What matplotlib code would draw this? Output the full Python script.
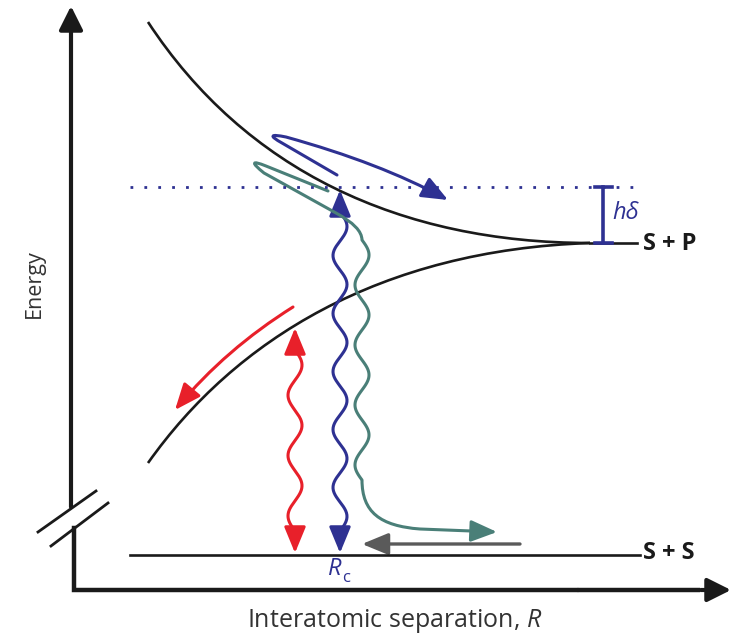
import numpy as np
import matplotlib
matplotlib.use("Agg")
import matplotlib.pyplot as plt
from matplotlib.path import Path
from matplotlib.patches import PathPatch, FancyArrowPatch

plt.rcParams['font.family'] = ['Open Sans', 'DejaVu Sans']
plt.rcParams['mathtext.fontset'] = 'custom'
plt.rcParams['mathtext.rm'] = 'Open Sans'
plt.rcParams['mathtext.it'] = 'Open Sans:italic'

# ---- schematic geometry (pixel coords, y down) ----
upper_curve = [(148, 22), (245, 170), (400, 243), (590, 243)]   # bezier
lower_curve = [(148, 463), (235, 340), (380, 250), (590, 243)]  # bezier
sp_level = 243
ss_level = 555
resonance_level = 187
level_x = (130, 640)
asym_x = (590, 637)

labels = ["S + P", "S + S"]
x_label = "Interatomic separation, $R$"
y_label = "Energy"

RED = "#e8202a"
BLUE = "#2e3192"
TEAL = "#4a7f78"
GREY = "#5a5a5a"
BLACK = "#1a1a1a"

# wavy photon arrows: x, top tip, bottom tip
red_photon = (295, 328, 553)
blue_photon = (340, 190, 553)
wave_amp = 7
wave_period = 60

HEAD = '-|>,head_length=0.8,head_width=0.33'
HEAD2 = '<|-|>,head_length=0.8,head_width=0.33'

fig = plt.figure(figsize=(7.31, 6.39), dpi=100)
ax = fig.add_axes([0, 0, 1, 1])
ax.set_xlim(0, 731)
ax.set_ylim(639, 0)
ax.axis('off')

C4 = [Path.MOVETO, Path.CURVE4, Path.CURVE4, Path.CURVE4]
for pts in (upper_curve, lower_curve):
    ax.add_patch(PathPatch(Path(pts, C4), fc='none', ec=BLACK, lw=1.9))
ax.plot(asym_x, [sp_level, sp_level], color=BLACK, lw=1.9)
ax.plot(level_x, [ss_level, ss_level], color=BLACK, lw=1.9)
ax.plot(level_x, [resonance_level, resonance_level], color=BLUE, lw=2,
        ls=(0, (1, 4)))

# h delta bracket
ax.plot([603, 603], [resonance_level, sp_level], color=BLUE, lw=2.6)
for yy in (resonance_level, sp_level):
    ax.plot([595, 612], [yy, yy], color=BLUE, lw=2.6)
ax.text(612, 213, "hδ", color=BLUE, fontsize=17, style='italic',
        family=['Open Sans', 'DejaVu Sans'], va='center', ha='left')

ax.text(643, 244, labels[0], fontsize=17, fontweight='bold', va='center',
        ha='left', color=BLACK)
ax.text(643, 553, labels[1], fontsize=17, fontweight='bold', va='center',
        ha='left', color=BLACK)


def wiggle(x0, y0, y1):
    # squiggle drawn with a whole number of half waves so it ends on its axis
    n_half = max(1, round(2 * (y1 - y0) / wave_period))
    ys = np.linspace(y0, y1, 300)
    xs = x0 + wave_amp * np.sin(np.pi * n_half * (ys - y0) / (y1 - y0))
    return list(zip(xs, ys))


lead = 22
for (x0, yt, yb), col in ((red_photon, RED), (blue_photon, BLUE)):
    v = [(x0, yt)] + wiggle(x0, yt + lead, yb - lead) + [(x0, yb)]
    ax.add_patch(FancyArrowPatch(path=Path(v), arrowstyle=HEAD2,
                                 mutation_scale=20, color=col, lw=2.2))

# red arrow along lower curve
ax.add_patch(FancyArrowPatch((293, 307), (175, 410), connectionstyle='arc3,rad=0.08',
                             arrowstyle=HEAD, mutation_scale=20, color=RED, lw=2.2,
                             shrinkA=0, shrinkB=0))

# blue hairpin trajectory
blue_loop = [(337, 175), (282, 143), (262, 132), (286, 137), (380, 163), (448, 200)]
blue_codes = [Path.MOVETO, Path.LINETO, Path.CURVE3, Path.CURVE3, Path.CURVE3, Path.CURVE3]
ax.add_patch(FancyArrowPatch(path=Path(blue_loop, blue_codes), arrowstyle=HEAD,
                             mutation_scale=20, color=BLUE, lw=2.2))

# teal trajectory: hairpin, photon wiggle down, then out along S+S
teal_top = [(328, 191), (266, 166), (244, 157), (264, 173), (336, 213), (362, 227), (362, 240)]
teal_codes = [Path.MOVETO, Path.LINETO, Path.CURVE3, Path.CURVE3, Path.LINETO, Path.CURVE3, Path.CURVE3]
teal_wave = wiggle(362, 240, 480)
teal_tail = [(362, 512), (380, 526), (420, 529), (497, 532)]
teal_verts = teal_top + teal_wave + teal_tail
teal_codes = teal_codes + [Path.LINETO] * len(teal_wave) + [Path.CURVE4, Path.CURVE4, Path.CURVE4, Path.LINETO]
ax.add_patch(FancyArrowPatch(path=Path(teal_verts, teal_codes), arrowstyle=HEAD,
                             mutation_scale=20, color=TEAL, lw=2.2))

# grey arrow
ax.add_patch(FancyArrowPatch((520, 544), (362, 544), arrowstyle=HEAD,
                             mutation_scale=20, color=GREY, lw=2.4, shrinkA=0, shrinkB=0))

ax.text(335, 569, "$R$", color=BLUE, fontsize=17, ha='center', va='center')
ax.text(346, 578, "c", color=BLUE, fontsize=12, ha='center', va='center')

# axes with breaks
ax.add_patch(FancyArrowPatch((71, 507), (71, 6), arrowstyle='-|>,head_length=0.9,head_width=0.45',
                             mutation_scale=16, color=BLACK, lw=3, shrinkA=0, shrinkB=0))
ax.plot([74, 74, 576], [528, 590, 590], color=BLACK, lw=3.2, solid_joinstyle='miter')
ax.plot([580, 698], [590, 590], color=BLACK, lw=3.2)
ax.add_patch(FancyArrowPatch((701, 590), (731, 590), arrowstyle='-|>,head_length=0.9,head_width=0.45',
                             mutation_scale=16, color=BLACK, lw=3, shrinkA=0, shrinkB=0))
ax.plot([38, 96], [532, 491], color=BLACK, lw=2)
ax.plot([51, 108], [546, 503], color=BLACK, lw=2)

ax.text(34, 284, y_label, rotation=90, fontsize=15.5, color="#333333",
        ha='center', va='center')
ax.text(395, 621, x_label, fontsize=18, color="#333333", ha='center', va='center')

fig.savefig("out.png", dpi=100)
